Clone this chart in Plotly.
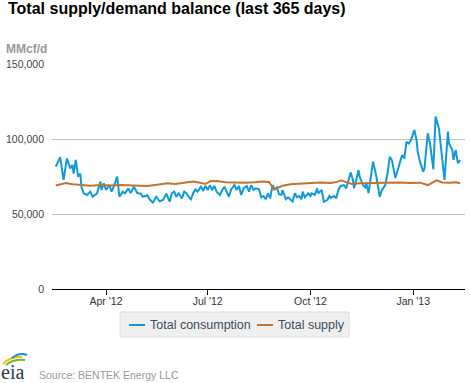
import pandas as pd
import plotly.graph_objects as go

# ---------------- data ----------------
start_date = "2012-02-15"

cons_day = [1, 5, 8, 11, 14, 16, 17, 19, 21, 23, 24, 26, 29, 32, 34, 38, 41, 42, 44, 46,
            49, 51, 53, 56, 58, 61, 63, 66, 68, 71, 74, 77, 79, 83, 85, 88, 91, 94, 97, 100,
            103, 105, 107, 109, 111, 114, 116, 118, 120, 122, 124, 126, 128, 131, 133, 135, 137, 139, 141, 143,
            145, 148, 150, 152, 154, 156, 158, 161, 163, 165, 167, 169, 172, 174, 176, 178, 180, 183, 185, 187,
            189, 191, 193, 195, 197, 199, 201, 203, 204, 207, 209, 211, 213, 215, 217, 219, 221, 222, 224, 227,
            229, 230, 233, 235, 236, 239, 241, 244, 246, 247, 250, 252, 254, 256, 259, 261, 263, 265, 267, 268,
            270, 272, 273, 276, 278, 279, 281, 283, 285, 288, 290, 291, 293, 296, 298, 300, 302, 305, 308, 311,
            313, 315, 317, 319, 322, 324, 325, 327, 330, 331, 334, 336, 339, 341, 344, 346, 349, 352, 353, 356,
            357, 359, 361, 363]
cons_val = [81500, 87800, 72700, 87100, 80400, 82700, 77000, 86000, 74900, 77000, 68200, 63800, 62700, 64900, 61500, 63800, 71600, 66000, 70400, 66000,
            69300, 64900, 68200, 74900, 61500, 64900, 63800, 67100, 64000, 68200, 64000, 63500, 61500, 62500, 59800, 57600, 61500, 58500, 59300, 63500,
            58200, 63800, 64900, 61500, 63800, 60400, 64900, 63800, 61500, 59800, 63800, 66400, 64900, 68200, 65500, 68700, 66000, 69300, 66000, 68700,
            64900, 62700, 66000, 68200, 64900, 61500, 66400, 69300, 66000, 68700, 62700, 67100, 68700, 64900, 69300, 66000, 67100, 66400, 61100, 62000,
            59800, 63800, 60400, 69300, 66400, 67800, 63000, 62700, 66000, 59800, 61100, 59300, 58200, 63800, 61100, 62000, 59800, 64900, 61100, 63800,
            62000, 63800, 62700, 67100, 63800, 66000, 58200, 59300, 62000, 60800, 62000, 60500, 66000, 68700, 69300, 67100, 71600, 77600, 72700, 67100,
            72700, 79300, 75000, 69300, 67800, 70400, 64000, 73800, 84900, 75000, 67100, 61500, 66000, 69300, 77000, 88200, 85600, 74000, 81500, 89300,
            87000, 98200, 97000, 99300, 106000, 99000, 91500, 84900, 78200, 80000, 103800, 97100, 79800, 114900, 107100, 92700, 72700, 104900, 97100, 92700,
            86000, 92700, 83800, 86000]

supply_day = [1, 5, 10, 16, 23, 32, 41, 50, 59, 68, 77, 83, 90, 97, 101, 108, 117, 124, 130, 135,
              139, 145, 153, 162, 171, 179, 186, 192, 194, 196, 199, 204, 211, 220, 229, 238, 247, 253, 256, 261,
              266, 273, 282, 291, 300, 309, 318, 327, 334, 338, 342, 347, 354, 359, 363]
supply_val = [69000, 69800, 70700, 69800, 69300, 68900, 69300, 69000, 69300, 69000, 68400, 68600, 69300, 70000, 70500, 70000, 70700, 71600, 70800, 70000,
              71800, 72000, 71200, 71000, 70900, 71200, 71600, 71300, 68500, 66400, 67200, 68900, 69800, 70300, 70800, 71000, 70700, 71400, 72500, 71200,
              70000, 70500, 70700, 71000, 70900, 71000, 70700, 70900, 69300, 70800, 72500, 71000, 70800, 71200, 70500]

series_names = ["Total consumption", "Total supply"]
series_colors = ["#0f9ad8", "#c3732f"]

x_tick_dates = ["2012-04-01", "2012-07-01", "2012-10-01", "2013-01-01"]
x_tick_labels = ["Apr '12", "Jul '12", "Oct '12", "Jan '13"]
y_tick_vals = [0, 50000, 100000, 150000]
y_tick_labels = ["0", "50,000", "100,000", "150,000"]

title_text = "Total supply/demand balance (last 365 days)"
unit_text = "MMcf/d"
source_text = "Source: BENTEK Energy LLC"

# ---------------- figure ----------------
W, H = 470, 383
ML, MR, MT, MB = 52, 5, 64, 94
PW, PH = W - ML - MR, H - MT - MB


def px(x):
    return (x - ML) / PW


def py(y):
    return (H - MB - y) / PH


base = pd.Timestamp(start_date)
cons_dates = base + pd.to_timedelta(cons_day, unit="D")
supply_dates = base + pd.to_timedelta(supply_day, unit="D")

fig = go.Figure()
fig.add_trace(go.Scatter(x=cons_dates, y=cons_val, mode="lines", name=series_names[0],
                         line=dict(color=series_colors[0], width=2)))
fig.add_trace(go.Scatter(x=supply_dates, y=supply_val, mode="lines", name=series_names[1],
                         line=dict(color=series_colors[1], width=2)))

fig.update_layout(
    width=W, height=H,
    margin=dict(l=ML, r=MR, t=MT, b=MB),
    paper_bgcolor="white", plot_bgcolor="white",
    showlegend=False,
    font=dict(family="Liberation Sans, Arial, sans-serif"),
)
fig.update_xaxes(
    range=["2012-02-12 16:00", "2013-02-16 08:00"],
    tickvals=x_tick_dates, ticktext=x_tick_labels,
    showgrid=False, showline=True, linecolor="#000", linewidth=1,
    ticks="outside", ticklen=5, tickcolor="#000", tickwidth=1,
    ticklabelstandoff=-3,
    tickfont=dict(size=10.5, color="#333"),
    zeroline=False,
)
fig.update_yaxes(
    range=[0, 150000],
    tickvals=y_tick_vals, ticktext=y_tick_labels,
    showgrid=True, gridcolor="#c0c0c0", gridwidth=1,
    showline=False, zeroline=False, ticks="",
    ticklabelstandoff=7,
    tickfont=dict(size=10.5, color="#444"),
)

ann = []
ann.append(dict(text="<b>" + title_text + "</b>", x=px(6), y=py(9), xref="paper", yref="paper",
                xanchor="left", yanchor="middle", showarrow=False,
                font=dict(size=16, color="#000")))
ann.append(dict(text="<b>" + unit_text + "</b>", x=px(4), y=py(49), xref="paper", yref="paper",
                xanchor="left", yanchor="middle", showarrow=False,
                font=dict(size=12, color="#999")))
# legend
ann.append(dict(text=series_names[0], x=px(148), y=py(325), xref="paper", yref="paper",
                xanchor="left", yanchor="middle", showarrow=False,
                font=dict(size=12.5, color="#3d4e5f")))
ann.append(dict(text=series_names[1], x=px(276), y=py(325), xref="paper", yref="paper",
                xanchor="left", yanchor="middle", showarrow=False,
                font=dict(size=12.5, color="#3d4e5f")))
# source and logo
ann.append(dict(text=source_text, x=px(37), y=py(375), xref="paper", yref="paper",
                xanchor="left", yanchor="middle", showarrow=False,
                font=dict(size=10.5, color="#999")))
ann.append(dict(text="eia", x=px(0), y=py(372), xref="paper", yref="paper",
                xanchor="left", yanchor="middle", showarrow=False, borderpad=0,
                font=dict(size=20, color="#2b3a4c", family="Liberation Serif, serif")))

shapes = []
shapes.append(dict(type="rect", xref="paper", yref="paper",
                   x0=px(120), x1=px(349), y0=py(312), y1=py(337),
                   fillcolor="#efefef", line=dict(color="#dcdcdc", width=1), layer="below"))
shapes.append(dict(type="line", xref="paper", yref="paper",
                   x0=px(129), x1=px(145), y0=py(325), y1=py(325),
                   line=dict(color=series_colors[0], width=2)))
shapes.append(dict(type="line", xref="paper", yref="paper",
                   x0=px(257), x1=px(273), y0=py(325), y1=py(325),
                   line=dict(color=series_colors[1], width=2)))


def arc(p0, c, p1, color):
    path = "M {} {} Q {} {} {} {}".format(px(p0[0]), py(p0[1]), px(c[0]), py(c[1]), px(p1[0]), py(p1[1]))
    return dict(type="path", xref="paper", yref="paper", path=path,
                line=dict(color=color, width=2))


shapes.append(arc((3, 364), (10, 356), (22, 357), "#f2c200"))
shapes.append(arc((6, 365), (13, 359), (25, 360), "#6db33f"))
shapes.append(arc((12, 358), (19, 352), (27, 355), "#1a8fd0"))

fig.update_layout(annotations=ann, shapes=shapes)

fig.write_html("out.html", config={"displayModeBar": False},
               post_script="document.body.style.margin='0';document.body.style.overflow='hidden';")
